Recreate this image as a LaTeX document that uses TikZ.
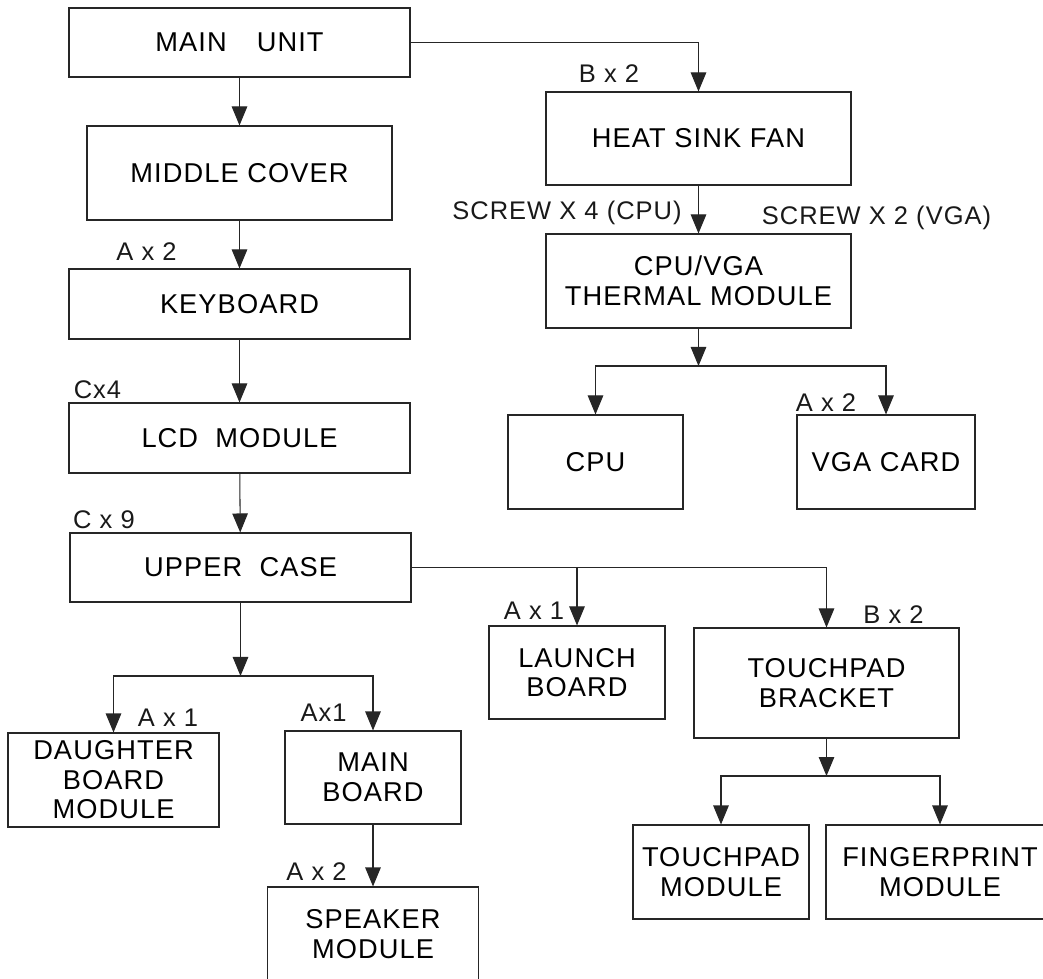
\documentclass[tikz,border=0pt]{standalone}
\usepackage{fontspec}
\setmainfont[LetterSpace=4]{Liberation Sans}
\usetikzlibrary{arrows.meta,positioning,calc}
\newcommand{\partfont}{\fontsize{15.5pt}{16.8pt}\selectfont}
\newcommand{\qtyfont}{\fontsize{14.5pt}{16pt}\selectfont}

\begin{document}
\begin{tikzpicture}[
  x=1cm,y=1cm,
  part/.style={draw=black!85, line width=0.6pt, align=center, font=\partfont, inner sep=2pt},
  qty/.style={font=\qtyfont, inner sep=0pt, text=black!90},
  arr/.style={-{Triangle[length=3.8mm,width=3.1mm]}, line width=0.6pt, draw=black!85}
]
\useasboundingbox (0,0) rectangle (20.86,-19.58);
% left column
\node[part, minimum width=6.82cm, minimum height=1.38cm] (main) at (4.79,-0.85) {MAIN\hspace{1.1em}UNIT};
\node[part, minimum width=6.10cm, minimum height=1.88cm] (middle) at (4.79,-3.46) {MIDDLE COVER};
\node[part, minimum width=6.82cm, minimum height=1.40cm] (kbd) at (4.79,-6.08) {KEYBOARD};
\node[part, minimum width=6.82cm, minimum height=1.40cm] (lcd) at (4.79,-8.76) {LCD\ \ MODULE};
\node[part, minimum width=6.82cm, minimum height=1.38cm] (upper) at (4.81,-11.35) {UPPER\ \ CASE};
\node[part, minimum width=4.22cm, minimum height=1.88cm] (dboard) at (2.27,-15.60) {DAUGHTER\\BOARD\\MODULE};
\node[part, minimum width=3.52cm, minimum height=1.86cm] (mboard) at (7.46,-15.55) {MAIN\\BOARD};
\node[part, minimum width=4.22cm, minimum height=1.88cm] (spk) at (7.46,-18.68) {SPEAKER\\MODULE};
% right column
\node[part, minimum width=6.10cm, minimum height=1.86cm] (heat) at (13.97,-2.77) {HEAT SINK FAN};
\node[part, minimum width=6.10cm, minimum height=1.88cm] (therm) at (13.97,-5.62) {CPU/VGA\\THERMAL MODULE};
\node[part, minimum width=3.50cm, minimum height=1.88cm] (cpu) at (11.91,-9.24) {CPU};
\node[part, minimum width=3.56cm, minimum height=1.88cm] (vga) at (17.72,-9.24) {VGA CARD};
\node[part, minimum width=3.52cm, minimum height=1.86cm] (launch) at (11.54,-13.45) {LAUNCH\\BOARD};
\node[part, minimum width=5.30cm, minimum height=2.20cm] (bracket) at (16.53,-13.66) {TOUCHPAD\\BRACKET};
\node[part, minimum width=3.52cm, minimum height=1.88cm] (tpad) at (14.42,-17.44) {TOUCHPAD\\MODULE};
\node[part, minimum width=4.56cm, minimum height=1.88cm] (fprint) at (18.80,-17.44) {FINGERPRINT\\MODULE};
% screw counts
\node[qty] (q1) at (2.93,-5.04) {A x 2};
\node[qty] (q2) at (1.95,-7.80) {Cx4};
\node[qty] (q3) at (2.08,-10.40) {C x 9};
\node[qty] (q4) at (12.18,-1.48) {B x 2};
\node[qty] (q5) at (11.34,-4.26) {SCREW X 4 (CPU)};
\node[qty] (q6) at (17.53,-4.36) {SCREW X 2 (VGA)};
\node[qty] (q7) at (16.52,-8.06) {A x 2};
\node[qty] (q8) at (10.68,-12.22) {A x 1};
\node[qty] (q9) at (17.87,-12.30) {B x 2};
\node[qty] (q10) at (3.36,-14.36) {A x 1};
\node[qty] (q11) at (6.47,-14.26) {Ax1};
\node[qty] (q12) at (6.33,-17.44) {A x 2};
% connectors
\coordinate (tj) at (13.97,-7.32);
\coordinate (uj) at (4.81,-13.52);
\coordinate (bj) at (16.53,-15.52);
\foreach \a/\b in {main/middle,middle/kbd,kbd/lcd,lcd/upper,heat/therm,mboard/spk,therm/tj,upper/uj,bracket/bj}{\draw[arr] (\a) -- (\b);}
\foreach \a/\b in {main/heat,upper/bracket,tj/cpu,tj/vga,uj/dboard,uj/mboard,bj/tpad,bj/fprint}{\draw[arr] (\a) -| (\b);}
\draw[arr] (upper.east -| launch) -- (launch);
\end{tikzpicture}
\end{document}
